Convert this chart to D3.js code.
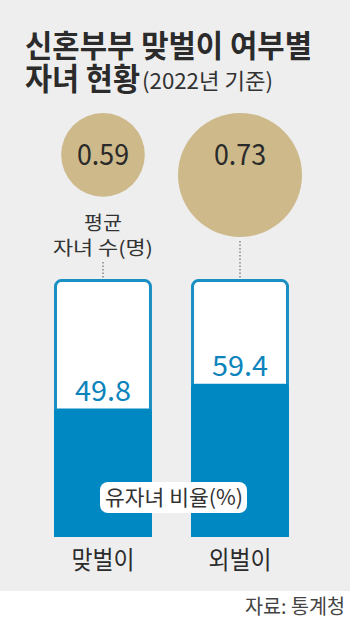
<!DOCTYPE html>
<html>
<head>
<meta charset="utf-8">
<script src="https://cdn.jsdelivr.net/npm/d3@7"></script>
<style>
  body { margin: 0; background: #fff; }
  svg text { font-family: "Noto Sans CJK KR", "Noto Sans", sans-serif; }
</style>
</head>
<body>
<div id="chart"></div>
<script>
// data
var categories = ["맞벌이", "외벌이"];
var avgChildren = [0.59, 0.73];
var childRatio = [49.8, 59.4];

var svgWidth = 350;
var svgHeight = 622;

var svg = d3.select("#chart")
  .append("svg")
  .attr("width", svgWidth)
  .attr("height", svgHeight);

// gray panel
svg.append("rect")
  .attr("x", 0).attr("y", 0)
  .attr("width", svgWidth).attr("height", 591)
  .attr("fill", "#eeeeee");

// title (condensed with textLength)
svg.append("text")
  .attr("x", 25).attr("y", 57)
  .attr("font-size", 31)
  .attr("font-weight", 700)
  .attr("textLength", 287)
  .attr("lengthAdjust", "spacingAndGlyphs")
  .attr("fill", "#2b2b2b")
  .text("신혼부부 맞벌이 여부별");

svg.append("text")
  .attr("x", 25).attr("y", 90)
  .attr("font-size", 31)
  .attr("font-weight", 700)
  .attr("textLength", 115)
  .attr("lengthAdjust", "spacingAndGlyphs")
  .attr("fill", "#2b2b2b")
  .text("자녀 현황");

svg.append("text")
  .attr("x", 142).attr("y", 89)
  .attr("font-size", 22)
  .attr("textLength", 131)
  .attr("lengthAdjust", "spacingAndGlyphs")
  .attr("fill", "#333")
  .text("(2022년 기준)");

// scales
var x = d3.scaleBand()
  .domain(categories)
  .range([54, 289])
  .paddingInner(0.285)
  .paddingOuter(0);

var barTop = 279;
var barBottom = 537;
var y = d3.scaleLinear()
  .domain([0, 100])
  .range([barBottom, barTop]);

var r = d3.scaleLinear()
  .domain([0.3, 0.73])
  .range([0, 62]);

var circleTop = 113;
var bw = x.bandwidth();

// clip bars at the bottom (local coords of each group)
svg.append("clipPath")
  .attr("id", "barClip")
  .append("rect")
  .attr("x", -bw).attr("y", 0)
  .attr("width", bw * 2).attr("height", barBottom);

var groups = svg.selectAll("g.cat")
  .data(categories)
  .enter()
  .append("g")
  .attr("class", "cat")
  .attr("transform", d => `translate(${x(d) + bw / 2}, 0)`);

// dotted connectors
groups.append("line")
  .attr("x1", 0).attr("x2", 0)
  .attr("y1", (d, i) => i === 0 ? 262 : circleTop + 2 * r(avgChildren[i]) + 4)
  .attr("y2", barTop - 1)
  .attr("stroke", "#555")
  .attr("stroke-width", 1)
  .attr("stroke-dasharray", "1.5,2");

// circles
groups.append("circle")
  .attr("cx", 0)
  .attr("cy", (d, i) => circleTop + r(avgChildren[i]))
  .attr("r", (d, i) => r(avgChildren[i]))
  .attr("fill", "#cdb98a");

groups.append("text")
  .attr("x", 0)
  .attr("y", circleTop + 52)
  .attr("text-anchor", "middle")
  .attr("font-size", 29)
  .attr("textLength", 52)
  .attr("lengthAdjust", "spacingAndGlyphs")
  .attr("fill", "#2a2a2a")
  .text((d, i) => avgChildren[i].toFixed(2));

var bars = groups.append("g")
  .attr("clip-path", "url(#barClip)");

// bar outline
bars.append("rect")
  .attr("x", -bw / 2 + 1.5)
  .attr("y", barTop + 1.5)
  .attr("width", bw - 3)
  .attr("height", barBottom - barTop + 6)
  .attr("rx", 6)
  .attr("fill", "#ffffff")
  .attr("stroke", "#1a8fc4")
  .attr("stroke-width", 3);

// blue fill
bars.append("rect")
  .attr("x", -bw / 2)
  .attr("y", (d, i) => y(childRatio[i]))
  .attr("width", bw)
  .attr("height", (d, i) => barBottom - y(childRatio[i]) + 6)
  .attr("rx", 4)
  .attr("fill", "#0088c2");

groups.append("text")
  .attr("x", 0)
  .attr("y", (d, i) => y(childRatio[i]) - 8)
  .attr("text-anchor", "middle")
  .attr("font-size", 28)
  .attr("textLength", 56)
  .attr("lengthAdjust", "spacingAndGlyphs")
  .attr("fill", "#0c84bb")
  .text((d, i) => childRatio[i].toFixed(1));

// category labels
groups.append("text")
  .attr("x", 0)
  .attr("y", 569)
  .attr("text-anchor", "middle")
  .attr("font-size", 25)
  .attr("textLength", 63)
  .attr("lengthAdjust", "spacingAndGlyphs")
  .attr("fill", "#2b2b2b")
  .text(d => d);

// circle label
var cx0 = x(categories[0]) + bw / 2;
svg.append("text")
  .attr("x", cx0).attr("y", 230)
  .attr("text-anchor", "middle")
  .attr("font-size", 19)
  .attr("textLength", 38)
  .attr("lengthAdjust", "spacingAndGlyphs")
  .attr("fill", "#333")
  .text("평균");
svg.append("text")
  .attr("x", cx0).attr("y", 255)
  .attr("text-anchor", "middle")
  .attr("font-size", 19)
  .attr("textLength", 100)
  .attr("lengthAdjust", "spacingAndGlyphs")
  .attr("fill", "#333")
  .text("자녀 수(명)");

// ratio label box
svg.append("rect")
  .attr("x", 100).attr("y", 482)
  .attr("width", 147).attr("height", 31)
  .attr("rx", 8)
  .attr("fill", "#ffffff");
svg.append("text")
  .attr("x", 174).attr("y", 505)
  .attr("text-anchor", "middle")
  .attr("font-size", 21)
  .attr("textLength", 138)
  .attr("lengthAdjust", "spacingAndGlyphs")
  .attr("fill", "#333")
  .text("유자녀 비율(%)");

// source
svg.append("text")
  .attr("x", 245).attr("y", 614)
  .attr("font-size", 20)
  .attr("textLength", 100)
  .attr("lengthAdjust", "spacingAndGlyphs")
  .attr("fill", "#444")
  .text("자료: 통계청");
</script>
</body>
</html>
